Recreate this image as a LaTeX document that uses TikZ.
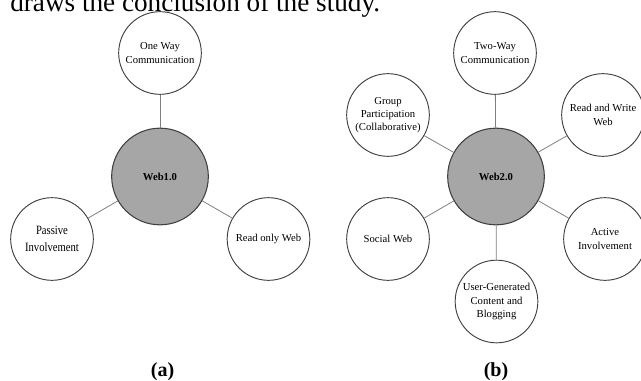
\documentclass[tikz,border=0pt]{standalone}
\usepackage{fontspec}
\setmainfont{Liberation Serif}
\begin{document}
\begin{tikzpicture}[x=0.75pt,y=-0.75pt,
    leaf/.style={draw=black!75,line width=0.7pt,circle,fill=white,inner sep=0pt,
      minimum size=62pt,align=center,font=\fontsize{8}{10}\selectfont},
    hub/.style={draw=black!75,line width=0.8pt,circle,fill=black!35,inner sep=0pt,
      minimum size=72.5pt,font=\fontsize{8}{10}\selectfont\bfseries},
    spoke/.style={draw=black!50,line width=0.6pt},
    tag/.style={font=\fontsize{15}{18}\selectfont\bfseries}]
  \useasboundingbox (0,0) rectangle (641,381);
  % caption line cut by the top edge
  \node[anchor=base west,inner sep=0pt,font=\fontsize{20.4}{22}\selectfont] (cap) at (10,12) {draws the conclusion of the study.};
  % (a) web 1.0
  \node[hub] (w1) at (160,176.5) {Web1.0};
  \node[leaf] (oneway) at (160,53) {One Way\\Communication};
  \node[leaf,font=\fontsize{9.5}{12.75}\selectfont] (passive) at (52,239)
    {\scalebox{0.84}[1]{Passive}\\\scalebox{0.84}[1]{Involvement}};
  \node[leaf] (readonly) at (268.5,239) {Read only Web};
  \draw[spoke] (w1) -- (oneway);
  \draw[spoke] (w1) -- (passive);
  \draw[spoke] (w1) -- (readonly);
  \node[tag] (la) at (162.5,372) {(a)};
  % (b) web 2.0
  \node[hub] (w2) at (496,176.5) {Web2.0};
  \node[leaf] (twoway) at (495,53) {Two-Way\\Communication};
  \node[leaf] (group) at (388,115) {Group\\Participation\\(Collaborative)};
  \node[leaf] (readwrite) at (603,115) {Read and Write\\Web};
  \node[leaf] (social) at (388,239) {Social Web};
  \node[leaf] (active) at (605,239) {Active\\Involvement};
  \node[leaf] (usergen) at (496.5,301.5) {User-Generated\\Content and\\Blogging};
  \draw[spoke] (w2) -- (twoway);
  \draw[spoke] (w2) -- (group);
  \draw[spoke] (w2) -- (readwrite);
  \draw[spoke] (w2) -- (social);
  \draw[spoke] (w2) -- (active);
  \draw[spoke] (w2) -- (usergen);
  \node[tag] (lb) at (496,372) {(b)};
\end{tikzpicture}
\end{document}
